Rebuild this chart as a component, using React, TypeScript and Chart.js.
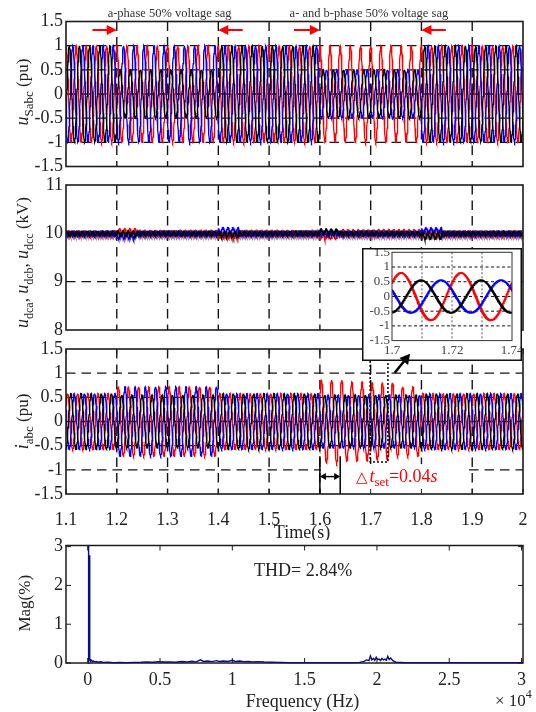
import React, { useEffect, useRef } from 'react';
import { Chart, registerables } from 'chart.js';

Chart.register(...registerables);

const SERIF = '"Liberation Serif", "Times New Roman", Times, serif';
const RED = '#ff0000';
const BLUE = '#0000ff';
const BLACK = '#000000';
const NAVY = '#0a0a8c';
const INK = '#222222';

// ---------- tick labels ----------
const timeTicks = [1.1, 1.2, 1.3, 1.4, 1.5, 1.6, 1.7, 1.8, 1.9, 2.0];
const puTicks = [-1.5, -1, -0.5, 0, 0.5, 1, 1.5];
const dcTicks = [8, 9, 10, 11];
const freqTicks = [0, 0.5, 1, 1.5, 2, 2.5, 3];
const magTicks = [0, 1, 2, 3];
const insetTimeTicks = [1.7, 1.72, 1.74];
const insetGridTimes = [1.71, 1.72, 1.73];

// ---------- grid voltage u_Sabc (pu): phase amplitudes between sag events ----------
const gridHz = 50;
const sagBounds = [1.1, 1.2, 1.4, 1.6, 1.8, 2.0];
const uSaAmp = [1, 0.5, 1, 0.5, 1];
const uSbAmp = [1, 1, 1, 0.5, 1];
const uScAmp = [1, 1, 1, 1, 1];
const uSaPeakTime = 1.10667;

// ---------- DC capacitor voltages (kV) ----------
const dcNominal = 10;
const rippleHz = 100;
const dcBounds = [1.1, 1.2, 1.24, 1.4, 1.44, 1.6, 1.64, 1.8, 1.84, 2.0];
const udcaOffset = [0, 0, 0, -0.02, 0, 0.03, 0, -0.05, 0];
const udcaRipple = [0.045, 0.05, 0.045, 0.055, 0.045, 0.06, 0.045, 0.07, 0.045];
const udcbOffset = [0, -0.05, 0, 0.06, 0, 0.01, 0, 0.06, 0];
const udcbRipple = [0.045, 0.06, 0.045, 0.055, 0.045, 0.045, 0.045, 0.055, 0.045];
const udccOffset = [0, 0.03, 0.01, -0.04, 0.01, -0.05, 0.02, 0.01, 0];
const udccRipple = [0.05, 0.065, 0.05, 0.06, 0.05, 0.065, 0.055, 0.055, 0.05];

// ---------- output currents i_abc (pu) ----------
const iBounds = [1.1, 1.2, 1.4, 1.6, 1.65, 1.7, 1.75, 1.8, 2.0];
const iaAmp = [0.58, 0.55, 0.58, 0.55, 0.55, 0.55, 0.55, 0.58];
const ibAmp = [0.58, 0.72, 0.58, 0.55, 0.55, 0.55, 0.55, 0.58];
const icAmp = [0.58, 0.72, 0.58, 0.86, 0.82, 0.8, 0.72, 0.58];
const iaPeakTime = 1.7097;

// phase lag (cycles) of a, b, c
const phaseLag = [0, 1 / 3, -1 / 3];

// ---------- FFT of current (frequency x10^4 Hz, magnitude %) ----------
const fftFreq = [
  0, 0.004, 0.0055, 0.007, 0.0125, 0.014, 0.016, 0.02, 0.026, 0.033,
  0.04, 0.05, 0.06, 0.075, 0.09, 0.11, 0.14, 0.18, 0.22, 0.27,
  0.32, 0.37, 0.41, 0.45, 0.49, 0.53, 0.57, 0.61, 0.65, 0.69,
  0.72, 0.75, 0.78, 0.8, 0.83, 0.86, 0.89, 0.91, 0.94, 0.97,
  1.0, 1.02, 1.05, 1.08, 1.11, 1.14, 1.18, 1.22, 1.27, 1.33,
  1.4, 1.5, 1.6, 1.7, 1.8, 1.88, 1.91, 1.93, 1.945, 1.955,
  1.965, 1.975, 1.985, 1.995, 2.005, 2.015, 2.025, 2.035, 2.045, 2.055,
  2.065, 2.075, 2.085, 2.095, 2.11, 2.13, 2.2, 2.4, 2.7, 3.01,
];
const fftMag = [
  0, 0, 3.4, 0.05, 2.78, 0.09, 0.1, 0.06, 0.07, 0.04,
  0.05, 0.03, 0.04, 0.02, 0.03, 0.015, 0.02, 0.01, 0.015, 0.01,
  0.015, 0.02, 0.03, 0.02, 0.035, 0.025, 0.03, 0.02, 0.04, 0.03,
  0.045, 0.03, 0.08, 0.04, 0.05, 0.035, 0.06, 0.04, 0.05, 0.04,
  0.07, 0.04, 0.05, 0.035, 0.04, 0.03, 0.035, 0.025, 0.02, 0.015,
  0.01, 0.01, 0.01, 0.01, 0.01, 0.015, 0.04, 0.08, 0.06, 0.18,
  0.08, 0.12, 0.07, 0.15, 0.09, 0.1, 0.06, 0.12, 0.08, 0.1,
  0.07, 0.17, 0.09, 0.13, 0.06, 0.02, 0.01, 0.01, 0.01, 0.01,
];

// ---------- annotations ----------
const sagLabels = ['a-phase 50% voltage sag', 'a- and b-phase 50% voltage sag'];
const sagLabelT = [1.304, 1.6965];
const sagLabelPu = 1.603;
const sagArrowTail = [1.152, 1.448, 1.549, 1.848];
const sagArrowTip = [1.2, 1.4, 1.6, 1.8];
const sagArrowPu = 1.324;
const deltaT = [1.6, 1.64];
const deltaMaskT = [1.6, 1.885];
const deltaMaskPu = [-0.88, -1.5];
const zoomBoxT = [1.699, 1.734];
const zoomArrowFrom = [1.7474, 1.01];
const zoomArrowTo = [1.7777, 1.4];

// ---------- helpers ----------
type Pt = { x: number; y: number };

function segAt(bounds: number[], t: number) {
  for (let k = 0; k < bounds.length - 2; k++) if (t < bounds[k + 1] - 1e-9) return k;
  return bounds.length - 2;
}

function acWave(bounds: number[], amps: number[], peakTime: number, lag: number, t0: number, t1: number, dt: number): Pt[] {
  const pts: Pt[] = [];
  const n = Math.round((t1 - t0) / dt);
  for (let i = 0; i <= n; i++) {
    const t = t0 + i * dt;
    const a = amps[segAt(bounds, t)];
    pts.push({ x: t, y: a * Math.cos(2 * Math.PI * (gridHz * (t - peakTime) - lag)) });
  }
  return pts;
}

function dcWave(offsets: number[], ripples: number[], phase: number, dt: number): Pt[] {
  const pts: Pt[] = [];
  const t0 = dcBounds[0];
  const n = Math.round((dcBounds[dcBounds.length - 1] - t0) / dt);
  for (let i = 0; i <= n; i++) {
    const t = t0 + i * dt;
    const k = segAt(dcBounds, t);
    pts.push({ x: t, y: dcNominal + offsets[k] + ripples[k] * Math.sin(2 * Math.PI * (rippleHz * t + phase)) });
  }
  return pts;
}

function fmt(v: number) {
  return String(Math.round(v * 1000) / 1000);
}

type Part = { t: string; size: number; italic?: boolean; dy?: number; gap?: number; family?: string };

function drawRich(ctx: CanvasRenderingContext2D, parts: Part[], x: number, y: number, align: 'center' | 'left', rotate: boolean, color: string) {
  ctx.save();
  ctx.fillStyle = color;
  ctx.textBaseline = 'alphabetic';
  ctx.textAlign = 'left';
  const font = (p: Part) => `${p.italic ? 'italic ' : ''}${p.size}px ${p.family || SERIF}`;
  const widths = parts.map((p) => {
    ctx.font = font(p);
    return ctx.measureText(p.t).width + (p.gap || 0);
  });
  const total = widths.reduce((a, b) => a + b, 0);
  ctx.translate(x, y);
  if (rotate) ctx.rotate(-Math.PI / 2);
  let cx = align === 'center' ? -total / 2 : 0;
  parts.forEach((p, i) => {
    ctx.font = font(p);
    ctx.fillText(p.t, cx, p.dy || 0);
    cx += widths[i];
  });
  ctx.restore();
}

function drawArrow(ctx: CanvasRenderingContext2D, x0: number, y0: number, x1: number, y1: number, color: string, lw: number, headLen: number, headHalf: number, both = false) {
  const a = Math.atan2(y1 - y0, x1 - x0);
  const c = Math.cos(a), s = Math.sin(a);
  ctx.save();
  ctx.setLineDash([]);
  ctx.strokeStyle = color;
  ctx.fillStyle = color;
  ctx.lineWidth = lw;
  const head = (hx: number, hy: number, cc: number, ss: number) => {
    ctx.beginPath();
    ctx.moveTo(hx, hy);
    ctx.lineTo(hx - headLen * cc + headHalf * ss, hy - headLen * ss - headHalf * cc);
    ctx.lineTo(hx - headLen * cc - headHalf * ss, hy - headLen * ss + headHalf * cc);
    ctx.closePath();
    ctx.fill();
  };
  const sx0 = both ? x0 + headLen * 0.8 * c : x0;
  const sy0 = both ? y0 + headLen * 0.8 * s : y0;
  ctx.beginPath();
  ctx.moveTo(sx0, sy0);
  ctx.lineTo(x1 - headLen * 0.8 * c, y1 - headLen * 0.8 * s);
  ctx.stroke();
  head(x1, y1, c, s);
  if (both) head(x0, y0, -c, -s);
  ctx.restore();
}

type FrameCfg = {
  xGrid?: number[];
  yGrid?: number[];
  xDash?: number[];
  yDash?: number[];
  xGridColor?: string;
  yGridColor?: string;
  gridWidth?: number;
  borderWidth: number;
  borderColor: string;
  borderBelow?: boolean;
  xTicksIn?: number[];
  yTicksIn?: number[];
  tickLen?: number;
  background?: boolean;
  outerBox?: boolean;
  mask?: (chart: any) => void;
  extra?: (chart: any) => void;
};

function framePlugin(cfg: FrameCfg) {
  const border = (chart: any) => {
    const { ctx, chartArea: a } = chart;
    ctx.save();
    ctx.setLineDash([]);
    ctx.strokeStyle = cfg.borderColor;
    ctx.lineWidth = cfg.borderWidth;
    ctx.strokeRect(a.left, a.top, a.right - a.left, a.bottom - a.top);
    ctx.restore();
  };
  return {
    id: 'matlabFrame',
    beforeDraw(chart: any) {
      if (cfg.background) {
        const { ctx, width, height } = chart;
        ctx.save();
        ctx.fillStyle = '#ffffff';
        ctx.fillRect(0, 0, width, height);
        ctx.restore();
      }
    },
    beforeDatasetsDraw(chart: any) {
      const { ctx, chartArea: a, scales } = chart;
      const x = scales.x, y = scales.y;
      ctx.save();
      ctx.lineWidth = cfg.gridWidth || 1;
      ctx.setLineDash(cfg.xDash || []);
      ctx.strokeStyle = cfg.xGridColor || '#111';
      (cfg.xGrid || []).forEach((v) => {
        const px = x.getPixelForValue(v);
        ctx.beginPath();
        ctx.moveTo(px, a.top);
        ctx.lineTo(px, a.bottom);
        ctx.stroke();
      });
      ctx.setLineDash(cfg.yDash || []);
      ctx.strokeStyle = cfg.yGridColor || '#111';
      (cfg.yGrid || []).forEach((v) => {
        const py = y.getPixelForValue(v);
        ctx.beginPath();
        ctx.moveTo(a.left, py);
        ctx.lineTo(a.right, py);
        ctx.stroke();
      });
      ctx.restore();
      if (cfg.mask) cfg.mask(chart);
      if (cfg.borderBelow) border(chart);
    },
    afterDatasetsDraw(chart: any) {
      if (!cfg.borderBelow) border(chart);
      const { ctx, chartArea: a, scales } = chart;
      const L = cfg.tickLen || 5;
      ctx.save();
      ctx.setLineDash([]);
      ctx.strokeStyle = cfg.borderColor;
      ctx.lineWidth = 1;
      (cfg.xTicksIn || []).forEach((v) => {
        const px = scales.x.getPixelForValue(v);
        ctx.beginPath();
        ctx.moveTo(px, a.bottom);
        ctx.lineTo(px, a.bottom - L);
        ctx.moveTo(px, a.top);
        ctx.lineTo(px, a.top + L);
        ctx.stroke();
      });
      (cfg.yTicksIn || []).forEach((v) => {
        const py = scales.y.getPixelForValue(v);
        ctx.beginPath();
        ctx.moveTo(a.left, py);
        ctx.lineTo(a.left + L, py);
        ctx.moveTo(a.right, py);
        ctx.lineTo(a.right - L, py);
        ctx.stroke();
      });
      ctx.restore();
    },
    afterDraw(chart: any) {
      if (cfg.extra) cfg.extra(chart);
      if (cfg.outerBox) {
        const { ctx, width, height } = chart;
        ctx.save();
        ctx.setLineDash([]);
        ctx.strokeStyle = '#111';
        ctx.lineWidth = 1.5;
        ctx.strokeRect(0.75, 0.75, width - 1.5, height - 1.5);
        ctx.restore();
      }
    },
  };
}

type PanelOpts = {
  datasets: any[];
  xRange: [number, number];
  yRange: [number, number];
  xTicks: number[];
  yTicks: number[];
  showX: boolean;
  xHeight?: number;
  xPad?: number;
  yWidth: number;
  yPad: number;
  font: number;
  tickColor: string;
  padding: { left: number; right: number; top: number; bottom: number };
  frame: FrameCfg;
};

function makeChart(canvas: HTMLCanvasElement, o: PanelOpts) {
  const tickFont = { family: SERIF, size: o.font };
  return new Chart(canvas, {
    type: 'scatter',
    data: { datasets: o.datasets },
    options: {
      responsive: false,
      animation: false,
      devicePixelRatio: 1,
      events: [],
      parsing: false,
      normalized: true,
      layout: { padding: o.padding },
      plugins: { legend: { display: false }, tooltip: { enabled: false }, title: { display: false } },
      scales: {
        x: {
          type: 'linear',
          min: o.xRange[0],
          max: o.xRange[1],
          display: o.showX,
          afterBuildTicks: (s: any) => {
            s.ticks = o.xTicks.map((v) => ({ value: v }));
          },
          afterFit: (s: any) => {
            if (o.xHeight !== undefined) s.height = o.xHeight;
            s.paddingLeft = 0;
            s.paddingRight = 0;
          },
          grid: { display: false, drawTicks: false },
          border: { display: false },
          ticks: {
            autoSkip: false,
            maxRotation: 0,
            minRotation: 0,
            padding: o.xPad ?? 4,
            color: o.tickColor,
            font: tickFont,
            callback: (v: any) => fmt(Number(v)),
          },
        },
        y: {
          type: 'linear',
          min: o.yRange[0],
          max: o.yRange[1],
          afterBuildTicks: (s: any) => {
            s.ticks = o.yTicks.map((v) => ({ value: v }));
          },
          afterFit: (s: any) => {
            s.width = o.yWidth;
            s.paddingTop = 0;
            s.paddingBottom = 0;
          },
          grid: { display: false, drawTicks: false },
          border: { display: false },
          ticks: {
            autoSkip: false,
            padding: o.yPad,
            color: o.tickColor,
            font: tickFont,
            callback: (v: any) => fmt(Number(v)),
          },
        },
      },
    },
    plugins: [framePlugin(o.frame)],
  } as any);
}

const line = (data: Pt[], color: string, width: number, extra: any = {}) => ({
  data,
  borderColor: color,
  backgroundColor: color,
  borderWidth: width,
  showLine: true,
  pointRadius: 0,
  fill: false,
  tension: 0,
  ...extra,
});

const mainGrid = {
  xDash: [9.5, 6],
  yDash: [9.5, 6],
  xGridColor: '#151515',
  yGridColor: '#151515',
  gridWidth: 1.4,
  borderWidth: 1.6,
  borderColor: '#1c1c1c',
};

export default function App() {
  const c1 = useRef<HTMLCanvasElement>(null);
  const c2 = useRef<HTMLCanvasElement>(null);
  const c3 = useRef<HTMLCanvasElement>(null);
  const c4 = useRef<HTMLCanvasElement>(null);
  const c5 = useRef<HTMLCanvasElement>(null);

  useEffect(() => {
    const charts: Chart[] = [];
    const T0 = timeTicks[0];
    const T1 = timeTicks[timeTicks.length - 1];
    const dt = 0.0005;
    const innerTimeGrid = timeTicks.slice(1, -1);
    const innerPuGrid = puTicks.slice(1, -1);

    // ---------- panel 1: grid voltage ----------
    const uS = [uSaAmp, uSbAmp, uScAmp].map((amp, k) => acWave(sagBounds, amp, uSaPeakTime, phaseLag[k], T0, T1, dt));
    charts.push(
      makeChart(c1.current!, {
        datasets: [line(uS[0], BLACK, 1.3), line(uS[1], BLUE, 1.3), line(uS[2], RED, 1.3)],
        xRange: [T0, T1],
        yRange: [-1.5, 1.5],
        xTicks: timeTicks,
        yTicks: puTicks,
        showX: false,
        yWidth: 66,
        yPad: 3,
        font: 18,
        tickColor: INK,
        padding: { left: 0, right: 13, top: 21.5, bottom: 13.5 },
        frame: {
          ...mainGrid,
          xGrid: innerTimeGrid,
          yGrid: innerPuGrid,
          extra: (chart: any) => {
            const { ctx, chartArea: a, scales } = chart;
            const x = scales.x, y = scales.y;
            ctx.save();
            ctx.fillStyle = '#333';
            ctx.font = `12.5px ${SERIF}`;
            ctx.textAlign = 'center';
            ctx.textBaseline = 'alphabetic';
            sagLabels.forEach((s, i) => ctx.fillText(s, x.getPixelForValue(sagLabelT[i]), y.getPixelForValue(sagLabelPu)));
            ctx.restore();
            sagArrowTail.forEach((t, i) => {
              const py = y.getPixelForValue(sagArrowPu);
              drawArrow(ctx, x.getPixelForValue(t), py, x.getPixelForValue(sagArrowTip[i]), py, RED, 2, 10, 5);
            });
            drawRich(
              ctx,
              [
                { t: 'u', size: 18, italic: true },
                { t: 'Sabc', size: 13, dy: 5 },
                { t: ' (pu)', size: 17 },
              ],
              28,
              (a.top + a.bottom) / 2 - 2,
              'center',
              true,
              INK
            );
          },
        },
      })
    );

    // ---------- panel 2: DC voltages ----------
    const udc = [
      dcWave(udcaOffset, udcaRipple, 0, dt),
      dcWave(udcbOffset, udcbRipple, 1 / 3, dt),
      dcWave(udccOffset, udccRipple, 2 / 3, dt),
    ];
    charts.push(
      makeChart(c2.current!, {
        datasets: [line(udc[0], BLACK, 1.7), line(udc[1], BLUE, 1.7), line(udc[2], RED, 1.7)],
        xRange: [T0, T1],
        yRange: [8, 11],
        xTicks: timeTicks,
        yTicks: dcTicks,
        showX: false,
        yWidth: 66,
        yPad: 3,
        font: 18,
        tickColor: INK,
        padding: { left: 0, right: 13, top: 10, bottom: 10 },
        frame: {
          ...mainGrid,
          xGrid: innerTimeGrid,
          yGrid: dcTicks.slice(1, -1),
          extra: (chart: any) => {
            const { ctx, chartArea: a } = chart;
            const u = { t: 'u', size: 18, italic: true };
            drawRich(
              ctx,
              [
                u, { t: 'dca', size: 12, dy: 5 }, { t: ', ', size: 17 },
                u, { t: 'dcb', size: 12, dy: 5 }, { t: ', ', size: 17 },
                u, { t: 'dcc', size: 12, dy: 5 }, { t: ' (kV)', size: 17 },
              ],
              27.5,
              (a.top + a.bottom) / 2 + 5,
              'center',
              true,
              INK
            );
          },
        },
      })
    );

    // ---------- panel 3: currents ----------
    const iab = [iaAmp, ibAmp, icAmp].map((amp, k) => acWave(iBounds, amp, iaPeakTime, phaseLag[k], T0, T1, dt));
    const p3 = makeChart(c3.current!, {
      datasets: [line(iab[0], BLACK, 1.3), line(iab[1], BLUE, 1.3), line(iab[2], RED, 1.3)],
      xRange: [T0, T1],
      yRange: [-1.5, 1.5],
      xTicks: timeTicks,
      yTicks: puTicks,
      showX: true,
      xHeight: 40,
      xPad: 15,
      yWidth: 66,
      yPad: 3,
      font: 18,
      tickColor: INK,
      padding: { left: 0, right: 13, top: 9, bottom: 6 },
      frame: {
        ...mainGrid,
        xGrid: innerTimeGrid,
        yGrid: innerPuGrid,
        xTicksIn: timeTicks,
        tickLen: 5,
        mask: (chart: any) => {
          // white backdrop behind the Δt annotation (hides the grid there)
          const { ctx, scales } = chart;
          const x0 = scales.x.getPixelForValue(deltaMaskT[0]) + 1;
          const x1 = scales.x.getPixelForValue(deltaMaskT[1]);
          const y0 = scales.y.getPixelForValue(deltaMaskPu[0]);
          const y1 = scales.y.getPixelForValue(deltaMaskPu[1]);
          ctx.save();
          ctx.fillStyle = '#ffffff';
          ctx.fillRect(x0, y0, x1 - x0, y1 - y0);
          ctx.restore();
        },
        extra: (chart: any) => {
          const { ctx, chartArea: a, scales } = chart;
          const x = scales.x, y = scales.y;
          ctx.save();
          ctx.setLineDash([]);
          ctx.strokeStyle = BLACK;
          ctx.lineWidth = 1.5;
          deltaT.forEach((t) => {
            const px = x.getPixelForValue(t);
            ctx.beginPath();
            ctx.moveTo(px, y.getPixelForValue(-0.72));
            ctx.lineTo(px, a.bottom);
            ctx.stroke();
          });
          // dotted zoom box
          ctx.setLineDash([2, 2]);
          ctx.lineWidth = 1.5;
          const bx0 = x.getPixelForValue(zoomBoxT[0]);
          const bx1 = x.getPixelForValue(zoomBoxT[1]);
          const by0 = y.getPixelForValue(1.5);
          const by1 = y.getPixelForValue(-0.84);
          ctx.beginPath();
          ctx.moveTo(bx0, by0);
          ctx.lineTo(bx0, by1);
          ctx.lineTo(bx1, by1);
          ctx.lineTo(bx1, by0);
          ctx.stroke();
          ctx.restore();
          const ay = y.getPixelForValue(-1.14);
          drawArrow(ctx, x.getPixelForValue(deltaT[0]), ay, x.getPixelForValue(deltaT[1]), ay, BLACK, 1.5, 6, 3.5, true);
          drawRich(
            ctx,
            [
              { t: '\u25B3', size: 15, gap: 2, family: '"DejaVu Sans", sans-serif' },
              { t: 't', size: 18, italic: true },
              { t: 'set', size: 13, dy: 4 },
              { t: '=0.04', size: 18 },
              { t: 's', size: 18, italic: true },
            ],
            x.getPixelForValue(1.671),
            y.getPixelForValue(-1.252),
            'left',
            false,
            RED
          );
          drawArrow(
            ctx,
            x.getPixelForValue(zoomArrowFrom[0]), y.getPixelForValue(zoomArrowFrom[1]),
            x.getPixelForValue(zoomArrowTo[0]), y.getPixelForValue(zoomArrowTo[1]),
            BLACK, 2.5, 10, 5.5
          );
          drawRich(ctx, [{ t: 'i', size: 18, italic: true }, { t: 'abc', size: 13, dy: 5 }, { t: ' (pu)', size: 17 }], 28, (a.top + a.bottom) / 2, 'center', true, INK);
          drawRich(ctx, [{ t: 'Time(s)', size: 18 }], (a.left + a.right) / 2 + 7.5, 198, 'center', false, INK);
        },
      },
    });
    charts.push(p3);

    // ---------- panel 4: FFT ----------
    const fftPts = fftFreq.map((f, i) => ({ x: f, y: fftMag[i] }));
    charts.push(
      makeChart(c4.current!, {
        datasets: [line(fftPts, NAVY, 1.4, { clip: { left: 0, top: 0, right: 0, bottom: 2 } })],
        xRange: [-0.15, 3.01],
        yRange: [0, 3.03],
        xTicks: freqTicks,
        yTicks: magTicks,
        showX: true,
        xHeight: 45,
        xPad: 6,
        yWidth: 66,
        yPad: 3,
        font: 18,
        tickColor: INK,
        padding: { left: 0, right: 13, top: 10.5, bottom: 4 },
        frame: {
          borderWidth: 1.5,
          borderColor: '#1c1c1c',
          borderBelow: true,
          xTicksIn: freqTicks,
          yTicksIn: magTicks,
          tickLen: 5,
          extra: (chart: any) => {
            const { ctx, chartArea: a, scales } = chart;
            const x = scales.x, y = scales.y;
            drawRich(ctx, [{ t: 'THD= 2.84%', size: 18 }], x.getPixelForValue(1.49), y.getPixelForValue(2.24), 'center', false, INK);
            drawRich(ctx, [{ t: 'Mag(%)', size: 17 }], 30, (a.top + a.bottom) / 2 - 1, 'center', true, INK);
            drawRich(ctx, [{ t: 'Frequency (Hz)', size: 18 }], (a.left + a.right) / 2 + 8, 172, 'center', false, INK);
            drawRich(ctx, [{ t: '\u00D7 10', size: 17 }, { t: '4', size: 12, dy: -8 }], 495, 171, 'left', false, INK);
          },
        },
      })
    );

    // ---------- inset: zoom of currents ----------
    const tIn0 = insetTimeTicks[0];
    const tIn1 = insetTimeTicks[insetTimeTicks.length - 1];
    const iIn = [iaAmp, ibAmp, icAmp].map((amp, k) => acWave(iBounds, amp, iaPeakTime, phaseLag[k], tIn0, tIn1, 0.0001));
    charts.push(
      makeChart(c5.current!, {
        datasets: [line(iIn[0], BLACK, 2), line(iIn[1], BLUE, 2), line(iIn[2], RED, 2)],
        xRange: [tIn0, tIn1],
        yRange: [-1.5, 1.5],
        xTicks: insetTimeTicks,
        yTicks: puTicks,
        showX: true,
        xHeight: 18,
        xPad: 2,
        yWidth: 30,
        yPad: 2,
        font: 13,
        tickColor: '#444',
        padding: { left: 0, right: 10, top: 4.3, bottom: 2.4 },
        frame: {
          xGrid: insetGridTimes,
          yGrid: puTicks.slice(1, -1),
          xDash: [2, 2],
          yDash: [3, 2.5],
          xGridColor: '#555',
          yGridColor: '#111',
          gridWidth: 1,
          borderWidth: 1,
          borderColor: '#333',
          background: true,
          outerBox: true,
          extra: () => {
            // the pointer arrow from the current panel reaches into the inset
            const sx = p3.scales.x as any, sy = p3.scales.y as any;
            const c = c5.current!.getContext('2d')!;
            const dx = 0 - 362, dy = 340 - 248;
            drawArrow(
              c,
              sx.getPixelForValue(zoomArrowFrom[0]) + dx, sy.getPixelForValue(zoomArrowFrom[1]) + dy,
              sx.getPixelForValue(zoomArrowTo[0]) + dx, sy.getPixelForValue(zoomArrowTo[1]) + dy,
              BLACK, 2.5, 10, 5.5
            );
          },
        },
      })
    );

    return () => charts.forEach((c) => c.destroy());
  }, []);

  const cs = (left: number, top: number, w: number, h: number, z = 1): React.CSSProperties => ({
    position: 'absolute',
    left,
    top,
    width: w,
    height: h,
    zIndex: z,
  });

  return (
    <div style={{ position: 'absolute', left: 0, top: 0, width: 536, height: 712, background: '#ffffff', overflow: 'hidden' }}>
      <canvas ref={c1} width={536} height={180} style={cs(0, 0, 536, 180)} />
      <canvas ref={c2} width={536} height={165} style={cs(0, 175, 536, 165)} />
      <canvas ref={c3} width={536} height={200} style={cs(0, 340, 536, 200)} />
      <canvas ref={c4} width={536} height={177} style={cs(0, 535, 536, 177)} />
      <canvas ref={c5} width={160} height={113} style={cs(362, 248, 160, 113, 3)} />
    </div>
  );
}
